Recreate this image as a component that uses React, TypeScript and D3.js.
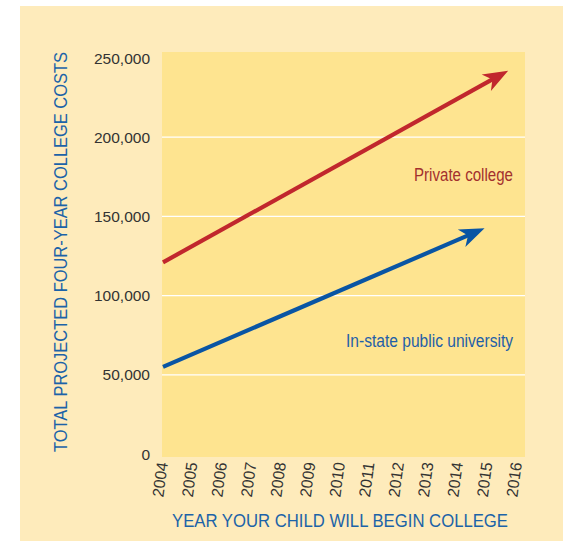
import { useEffect, useRef } from "react";
import * as d3 from "d3";

// ── Data ─────────────────────────────────────────────────────────────────────

const years = [2004, 2005, 2006, 2007, 2008, 2009, 2010, 2011, 2012, 2013, 2014, 2015, 2016];
const yTicks = [0, 50000, 100000, 150000, 200000, 250000];

// straight projections: start value and arrow tip (year, cost)
const privateCollege = [
  { year: 2004, cost: 121000 },
  { year: 2015.7, cost: 242000 },
];
const publicUniversity = [
  { year: 2004, cost: 55000 },
  { year: 2014.9, cost: 142500 },
];

const W = 563;
const H = 541;
const FONT = "'Liberation Sans', Arial, sans-serif";

export default function App() {
  const svgRef = useRef<SVGSVGElement>(null);

  useEffect(() => {
    document.body.style.margin = "0";
    if (!svgRef.current) return;
    const svg = d3.select(svgRef.current);
    svg.selectAll("*").remove();

    // outer cream panel
    svg.append("rect")
      .attr("x", 20).attr("y", 6)
      .attr("width", W - 20).attr("height", H - 6)
      .attr("fill", "#FEEBBB");

    const x = d3.scaleLinear().domain([2004, 2016]).range([163, 517]);
    const y = d3.scaleLinear().domain([0, 250000]).range([454, 58]);

    // plot area
    svg.append("rect")
      .attr("x", 162).attr("y", 52)
      .attr("width", 525 - 162).attr("height", 457 - 52)
      .attr("fill", "#FEE490");

    // ── Grid lines ──────────────────────────────────────────────────────────
    svg.append("g")
      .selectAll("line")
      .data(yTicks.filter((t) => t > 0 && t < 250000))
      .join("line")
      .attr("x1", 162).attr("x2", 525)
      .attr("y1", (d) => y(d)).attr("y2", (d) => y(d))
      .attr("stroke", "#ffffff")
      .attr("stroke-width", 1.2);

    // ── Y tick labels ───────────────────────────────────────────────────────
    svg.append("g")
      .selectAll("text")
      .data(yTicks)
      .join("text")
      .attr("x", 150)
      .attr("y", (d) => y(d))
      .attr("dy", "0.36em")
      .attr("text-anchor", "end")
      .attr("fill", "#333333")
      .attr("font-family", FONT)
      .attr("font-size", 15.5)
      .text((d) => d3.format(",")(d));

    // ── X tick labels (rotated) ─────────────────────────────────────────────
    svg.append("g")
      .selectAll("text")
      .data(years)
      .join("text")
      .attr("transform", (d) => `translate(${x(d) + 5},463) rotate(-82)`)
      .attr("text-anchor", "end")
      .attr("fill", "#333333")
      .attr("font-family", FONT)
      .attr("font-size", 16)
      .attr("textLength", 35)
      .attr("lengthAdjust", "spacingAndGlyphs")
      .text((d) => String(d));

    // ── Axis titles ─────────────────────────────────────────────────────────
    svg.append("text")
      .attr("x", 340).attr("y", 527)
      .attr("text-anchor", "middle")
      .attr("fill", "#1C63A8")
      .attr("font-family", FONT)
      .attr("font-size", 18.5)
      .attr("textLength", 336)
      .attr("lengthAdjust", "spacingAndGlyphs")
      .text("YEAR YOUR CHILD WILL BEGIN COLLEGE");

    svg.append("text")
      .attr("transform", "translate(67,252) rotate(-90)")
      .attr("text-anchor", "middle")
      .attr("fill", "#1C63A8")
      .attr("font-family", FONT)
      .attr("font-size", 18.5)
      .attr("textLength", 400)
      .attr("lengthAdjust", "spacingAndGlyphs")
      .text("TOTAL PROJECTED FOUR-YEAR COLLEGE COSTS");

    // ── Arrow lines ─────────────────────────────────────────────────────────
    const drawArrow = (pts: { year: number; cost: number }[], color: string) => {
      const [p0, p1] = pts;
      const x0 = x(p0.year), y0 = y(p0.cost);
      const x1 = x(p1.year), y1 = y(p1.cost);
      const ang = Math.atan2(y1 - y0, x1 - x0);
      const len = Math.hypot(x1 - x0, y1 - y0);
      const back = 16;
      svg.append("line")
        .attr("x1", x0).attr("y1", y0)
        .attr("x2", x0 + ((len - back) / len) * (x1 - x0))
        .attr("y2", y0 + ((len - back) / len) * (y1 - y0))
        .attr("stroke", color)
        .attr("stroke-width", 4.2);
      svg.append("path")
        .attr("transform", `translate(${x1},${y1}) rotate(${(ang * 180) / Math.PI})`)
        .attr("d", "M0,0 L-25,-9.5 L-18,0 L-25,9.5 Z")
        .attr("fill", color);
    };
    drawArrow(privateCollege, "#C1272D");
    drawArrow(publicUniversity, "#0955A4");

    // ── Series labels ───────────────────────────────────────────────────────
    svg.append("text")
      .attr("x", 513).attr("y", 181)
      .attr("text-anchor", "end")
      .attr("fill", "#A3302E")
      .attr("font-family", FONT)
      .attr("font-size", 17.5)
      .attr("textLength", 99)
      .attr("lengthAdjust", "spacingAndGlyphs")
      .text("Private college");

    svg.append("text")
      .attr("x", 513).attr("y", 347)
      .attr("text-anchor", "end")
      .attr("fill", "#1F60A8")
      .attr("font-family", FONT)
      .attr("font-size", 17.5)
      .attr("textLength", 167)
      .attr("lengthAdjust", "spacingAndGlyphs")
      .text("In-state public university");
  }, []);

  return <svg ref={svgRef} width={W} height={H} style={{ display: "block" }} />;
}
